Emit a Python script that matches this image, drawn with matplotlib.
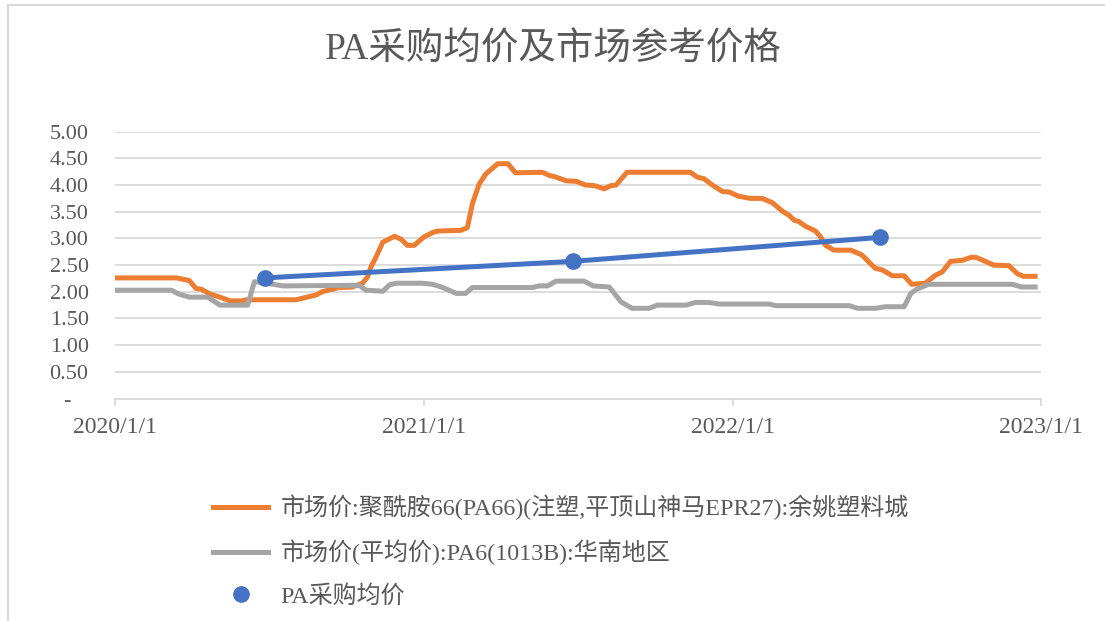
import pandas as pd
import matplotlib
matplotlib.use('Agg')
import matplotlib.pyplot as plt
from matplotlib.lines import Line2D

plt.rcParams['font.family'] = ['Liberation Serif', 'Noto Sans CJK SC', 'DejaVu Sans']

TITLE = 'PA采购均价及市场参考价格'
LABEL_PA66 = '市场价:聚酰胺66(PA66)(注塑,平顶山神马EPR27):余姚塑料城'
LABEL_PA6 = '市场价(平均价):PA6(1013B):华南地区'
LABEL_AVG = 'PA采购均价'

# orange: PA66 market price
pa66_dates = [
    '2020-01-03', '2020-03-14', '2020-03-26', '2020-03-29', '2020-04-06', '2020-04-12',
    '2020-04-22', '2020-05-04', '2020-05-16', '2020-05-31', '2020-06-04', '2020-06-16',
    '2020-08-02', '2020-08-10', '2020-08-26', '2020-09-02', '2020-09-22', '2020-10-08',
    '2020-10-20', '2020-10-26', '2020-10-30', '2020-11-04', '2020-11-13', '2020-11-27',
    '2020-12-05', '2020-12-12', '2020-12-20', '2021-01-01', '2021-01-11', '2021-01-15',
    '2021-01-19', '2021-02-13', '2021-02-21', '2021-02-27', '2021-03-07', '2021-03-15',
    '2021-03-29', '2021-04-10', '2021-04-19', '2021-05-21', '2021-05-29', '2021-06-04',
    '2021-06-18', '2021-06-30', '2021-07-11', '2021-07-21', '2021-08-02', '2021-08-10',
    '2021-08-16', '2021-08-29', '2021-11-12', '2021-11-20', '2021-11-28', '2021-12-08',
    '2021-12-20', '2021-12-28', '2022-01-08', '2022-01-22', '2022-02-05', '2022-02-17',
    '2022-03-01', '2022-03-09', '2022-03-15', '2022-03-20', '2022-03-28', '2022-04-09',
    '2022-04-15', '2022-04-21', '2022-05-01', '2022-05-21', '2022-06-03', '2022-06-13',
    '2022-06-19', '2022-06-27', '2022-07-09', '2022-07-23', '2022-08-01', '2022-08-17',
    '2022-08-29', '2022-09-06', '2022-09-16', '2022-09-30', '2022-10-11', '2022-10-17',
    '2022-10-27', '2022-11-06', '2022-11-24', '2022-12-04', '2022-12-11', '2022-12-25',
]
pa66_vals = [
    2.26, 2.26, 2.22, 2.21, 2.06, 2.05,
    1.96, 1.90, 1.83, 1.83, 1.85, 1.85,
    1.85, 1.88, 1.94, 2.00, 2.08, 2.09,
    2.16, 2.28, 2.47, 2.62, 2.93, 3.04,
    2.98, 2.87, 2.87, 3.03, 3.11, 3.13,
    3.14, 3.15, 3.20, 3.65, 4.02, 4.21,
    4.40, 4.40, 4.23, 4.24, 4.18, 4.16,
    4.08, 4.07, 4.00, 3.99, 3.93, 3.99,
    4.00, 4.24, 4.24, 4.15, 4.12, 4.00,
    3.88, 3.87, 3.79, 3.75, 3.75, 3.67,
    3.51, 3.43, 3.34, 3.32, 3.23, 3.14,
    3.03, 2.87, 2.78, 2.78, 2.69, 2.53,
    2.44, 2.41, 2.30, 2.30, 2.14, 2.16,
    2.31, 2.37, 2.57, 2.59, 2.65, 2.64,
    2.57, 2.50, 2.49, 2.34, 2.29, 2.29,
]

# gray: PA6 south china average price
pa6_dates = [
    '2020-01-03', '2020-03-08', '2020-03-16', '2020-03-29', '2020-04-20', '2020-05-04',
    '2020-06-06', '2020-06-14', '2020-06-28', '2020-07-18', '2020-10-08', '2020-10-16',
    '2020-10-24', '2020-11-13', '2020-11-21', '2020-11-29', '2020-12-30', '2021-01-11',
    '2021-01-23', '2021-02-08', '2021-02-19', '2021-02-27', '2021-05-09', '2021-05-17',
    '2021-05-27', '2021-06-06', '2021-07-09', '2021-07-20', '2021-08-08', '2021-08-22',
    '2021-09-04', '2021-09-24', '2021-10-04', '2021-11-07', '2021-11-18', '2021-12-04',
    '2021-12-16', '2022-02-13', '2022-02-21', '2022-05-19', '2022-05-29', '2022-06-19',
    '2022-07-01', '2022-07-23', '2022-07-31', '2022-08-07', '2022-08-21', '2022-11-28',
    '2022-12-09', '2022-12-25',
]
pa6_vals = [
    2.03, 2.03, 1.96, 1.90, 1.90, 1.75,
    1.75, 2.19, 2.16, 2.11, 2.12, 2.12,
    2.03, 2.01, 2.13, 2.16, 2.16, 2.14,
    2.08, 1.97, 1.97, 2.08, 2.08, 2.11,
    2.11, 2.20, 2.20, 2.11, 2.09, 1.81,
    1.69, 1.69, 1.75, 1.75, 1.80, 1.80,
    1.77, 1.77, 1.74, 1.74, 1.69, 1.69,
    1.72, 1.72, 1.97, 2.05, 2.14, 2.14,
    2.09, 2.09,
]

# blue: purchase average
avg_dates = ['2020-06-26', '2021-06-26', '2022-06-25']
avg_vals = [2.26, 2.57, 3.02]

year_ticks = ['2020-01-01', '2021-01-01', '2022-01-01', '2023-01-01']
year_labels = ['2020/1/1', '2021/1/1', '2022/1/1', '2023/1/1']
y_ticks = [0, 0.5, 1.0, 1.5, 2.0, 2.5, 3.0, 3.5, 4.0, 4.5, 5.0]
y_labels = ['-   ', '0.50', '1.00', '1.50', '2.00', '2.50', '3.00', '3.50', '4.00', '4.50', '5.00']

ORANGE = '#ED7D31'
GRAY = '#A5A5A5'
BLUE = '#4472C4'
TXT = '#595959'
GRID = '#D9D9D9'

fig = plt.figure(figsize=(11.05, 6.21), dpi=100)
ax = fig.add_axes([115 / 1105, 1 - 398.5 / 621, 926 / 1105, 266.8 / 621])

ax.plot(pd.to_datetime(pa66_dates), pa66_vals, color=ORANGE, lw=3.6,
        solid_joinstyle='round', label=LABEL_PA66, zorder=3)
ax.plot(pd.to_datetime(pa6_dates), pa6_vals, color=GRAY, lw=3.6,
        solid_joinstyle='round', label=LABEL_PA6, zorder=4)
ax.plot(pd.to_datetime(avg_dates), avg_vals, color=BLUE, lw=3.6, zorder=5)
ax.plot(pd.to_datetime(avg_dates), avg_vals, 'o', color=BLUE, ms=11,
        label=LABEL_AVG, zorder=6)

ax.set_xlim(pd.Timestamp(year_ticks[0]), pd.Timestamp(year_ticks[-1]))
ax.set_ylim(0, 5)
ax.set_xticks(pd.to_datetime(year_ticks))
ax.set_xticklabels(year_labels)
ax.set_yticks(y_ticks)
ax.set_yticklabels(y_labels)

ax.grid(axis='y', color=GRID, lw=1.3)
ax.set_axisbelow(True)
for s in ['top', 'right', 'left']:
    ax.spines[s].set_visible(False)
ax.spines['bottom'].set_color(GRID)
ax.spines['bottom'].set_linewidth(1.3)
ax.tick_params(axis='x', colors=TXT, labelsize=17, length=5, width=1.3,
               color=GRID, pad=8)
ax.tick_params(axis='y', colors=TXT, labelsize=16, length=0, pad=19)

fig.text(553 / 1105, 1 - 50 / 621, TITLE, ha='center', va='center',
         fontsize=27, color=TXT)

leg = fig.legend(loc='upper left', bbox_to_anchor=(213 / 1105, 1 - 495 / 621),
                 frameon=False, fontsize=17.3, handlelength=2.3, handletextpad=0.5,
                 labelspacing=0.8, borderpad=0, borderaxespad=0)
for t in leg.get_texts():
    t.set_color(TXT)

# chart area border (left and top edges visible)
fig.add_artist(Line2D([7.5 / 1105, 7.5 / 1105], [0, 1 - 4.5 / 621],
                      color=GRID, lw=1.5, transform=fig.transFigure))
fig.add_artist(Line2D([7.5 / 1105, 1], [1 - 4.5 / 621, 1 - 4.5 / 621],
                      color=GRID, lw=1.5, transform=fig.transFigure))

fig.savefig('out.png', dpi=100)
